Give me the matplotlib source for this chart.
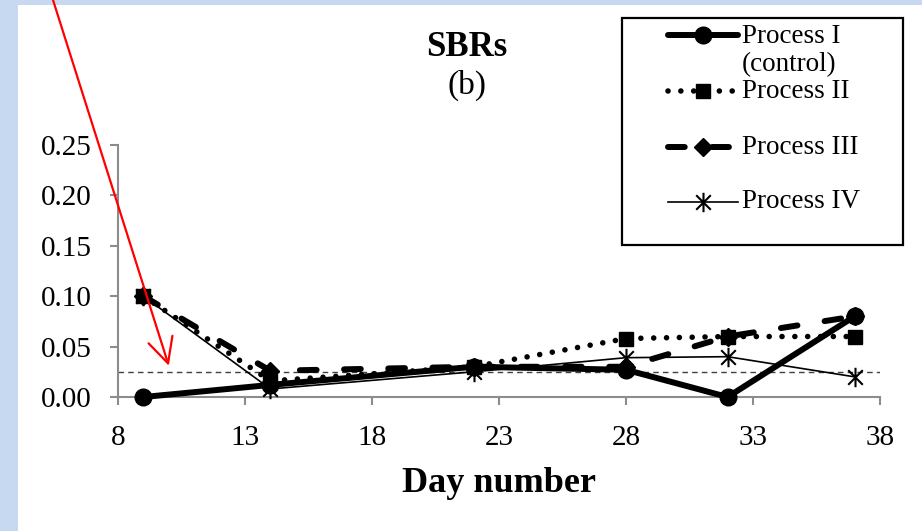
import matplotlib

matplotlib.use("Agg")
import matplotlib.pyplot as plt
from matplotlib.lines import Line2D
from matplotlib.patches import Rectangle
from matplotlib.path import Path

# ---- data
days = [9, 14, 22, 28, 32, 37]
process_1 = [0.0, 0.012, 0.030, 0.027, 0.0, 0.080]
process_2 = [0.100, 0.016, 0.030, 0.058, 0.060, 0.060]
process_3 = [0.100, 0.026, 0.030, 0.030, 0.060, 0.080]
process_4 = [0.100, 0.008, 0.025, 0.039, 0.040, 0.020]
threshold = 0.025

labels = ["Process I\n(control)", "Process II", "Process III", "Process IV"]
x_ticks = [8, 13, 18, 23, 28, 33, 38]
y_ticks = [0.0, 0.05, 0.10, 0.15, 0.20, 0.25]

plt.rcParams["font.family"] = ["Liberation Serif", "DejaVu Serif"]

W, H = 922, 531
fig = plt.figure(figsize=(W / 100, H / 100), dpi=100)
fig.patch.set_facecolor("white")


def fx(px):
    return px / W


def fy(py):
    return 1 - py / H


# blue frame strips (left and top)
fig.add_artist(Rectangle((0, 0), fx(18), 1, transform=fig.transFigure,
                         facecolor="#c6d9f1", edgecolor="none", zorder=0))
fig.add_artist(Rectangle((0, fy(5)), 1, 5 / H, transform=fig.transFigure,
                         facecolor="#c6d9f1", edgecolor="none", zorder=0))

ax = fig.add_axes([fx(118), fy(397), fx(880) - fx(118), fy(145) - fy(397)])
ax.set_facecolor("none")
ax.set_xlim(8, 38)
ax.set_ylim(0, 0.25)

# asterisk marker like Excel's star
star = Path([(0, -1), (0, 1), (-0.75, -0.75), (0.75, 0.75), (-0.75, 0.75), (0.75, -0.75)],
            [Path.MOVETO, Path.LINETO] * 3)

styles = [
    dict(color="black", lw=4.3, marker="o", ms=12, solid_capstyle="round"),
    dict(color="black", lw=4.0, marker="s", ms=10, linestyle=(0, (0.01, 2.3)),
         dash_capstyle="round"),
    dict(color="black", lw=4.3, marker="D", ms=9.5, linestyle=(0, (2.8, 4.6)),
         dash_capstyle="round"),
    dict(color="black", lw=1.2, marker=star, ms=14, mew=1.5),
]
series = [process_1, process_2, process_3, process_4]

ax.axhline(threshold, color="#404040", lw=1.0, dashes=(4, 3), zorder=1)

order = [3, 1, 2, 0]
for i in order:
    ax.plot(days, series[i], clip_on=False, zorder=3 + i, **styles[i])

for side in ["top", "right"]:
    ax.spines[side].set_visible(False)
for side in ["left", "bottom"]:
    ax.spines[side].set_color("#8c8c8c")
    ax.spines[side].set_linewidth(1.5)

ax.set_xticks(x_ticks)
ax.set_yticks(y_ticks)
ax.set_yticklabels([f"{v:.2f}" for v in y_ticks])
ax.tick_params(axis="both", direction="out", length=6, width=1.5, color="#8c8c8c",
               labelsize=21)
ax.tick_params(axis="y", pad=13)
ax.tick_params(axis="x", pad=14)

# titles
fig.text(fx(467), fy(47), "SBRs", ha="center", va="center", fontsize=25, fontweight="bold")
fig.text(fx(467), fy(85), "(b)", ha="center", va="center", fontsize=24)
fig.text(fx(499), fy(483), "Day number", ha="center", va="center", fontsize=26,
         fontweight="bold")

# legend box
fig.add_artist(Rectangle((fx(622), fy(245)), fx(903) - fx(622), fy(18) - fy(245),
                         transform=fig.transFigure, facecolor="white",
                         edgecolor="black", lw=1.6, zorder=10))
entry_y = [35, 91, 147, 202]
for i, yy in enumerate(entry_y):
    st = dict(styles[i])
    fig.add_artist(Line2D([fx(668), fx(703), fx(738)], [fy(yy)] * 3,
                          transform=fig.transFigure, markevery=[1], zorder=11, **st))
fig.text(fx(742), fy(50.5), labels[0], ha="left", va="center", fontsize=19.5,
         linespacing=1.15, zorder=12)
for i in range(1, 4):
    fig.text(fx(742), fy(entry_y[i]), labels[i], ha="left", va="center", fontsize=19.5,
             zorder=12)

# red annotation arrow
ax.annotate("", xy=(10, 0.031), xycoords="data",
            xytext=(fx(53), 1.0), textcoords="figure fraction",
            arrowprops=dict(arrowstyle="->,head_length=0.9,head_width=0.45",
                            color="red", lw=1.6, shrinkA=0, shrinkB=0,
                            mutation_scale=20),
            annotation_clip=False, zorder=20)

fig.savefig("out.png", dpi=100)
